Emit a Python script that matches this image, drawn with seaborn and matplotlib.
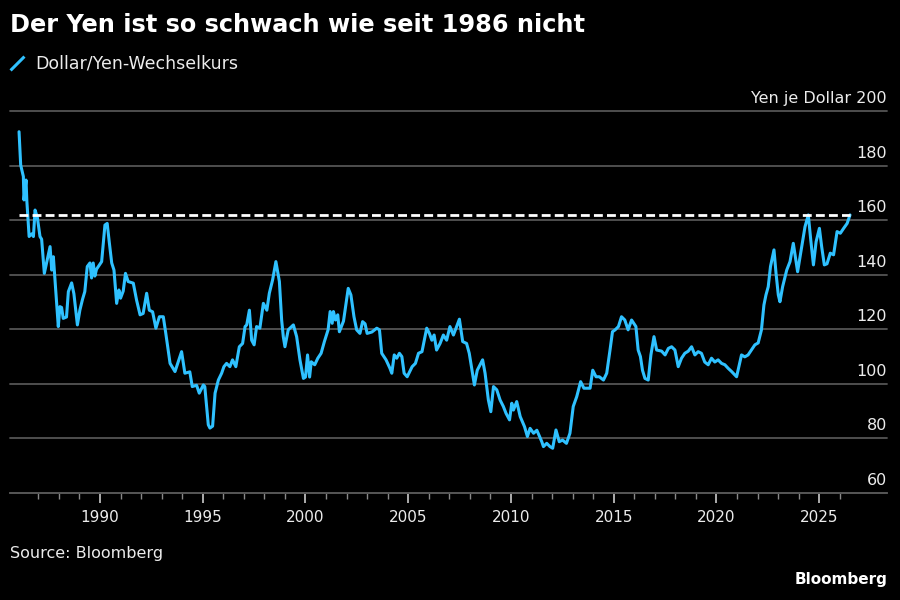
import matplotlib
matplotlib.use('Agg')
import matplotlib.pyplot as plt
import matplotlib.transforms as mtransforms
from matplotlib.lines import Line2D
import pandas as pd
import seaborn as sns

# Chart text
TITLE = 'Der Yen ist so schwach wie seit 1986 nicht'
SERIES_NAME = 'Dollar/Yen-Wechselkurs'
SOURCE = 'Source: Bloomberg'
BRAND = 'Bloomberg'

# Dollar/Yen exchange rate (decimal year, yen per dollar)
dates = [
    1986.06, 1986.14, 1986.27, 1986.30, 1986.40, 1986.44, 1986.55, 1986.68, 1986.76, 1986.84,
    1986.95, 1987.08, 1987.16, 1987.29, 1987.40, 1987.57, 1987.65, 1987.73, 1987.97, 1988.05,
    1988.13, 1988.21, 1988.37, 1988.46, 1988.62, 1988.73, 1988.90, 1989.02, 1989.15, 1989.26,
    1989.38, 1989.51, 1989.59, 1989.67, 1989.75, 1989.83, 1990.08, 1990.24, 1990.35, 1990.45,
    1990.57, 1990.68, 1990.81, 1990.92, 1991.00, 1991.13, 1991.24, 1991.37, 1991.62, 1991.78,
    1991.95, 1992.10, 1992.27, 1992.40, 1992.56, 1992.72, 1992.89, 1993.08, 1993.20, 1993.41,
    1993.65, 1993.97, 1994.13, 1994.37, 1994.49, 1994.70, 1994.83, 1995.03, 1995.10, 1995.27,
    1995.35, 1995.48, 1995.60, 1995.76, 1995.92, 1996.03, 1996.16, 1996.32, 1996.45, 1996.61,
    1996.78, 1996.94, 1997.06, 1997.14, 1997.27, 1997.38, 1997.50, 1997.62, 1997.78, 1997.95,
    1998.12, 1998.24, 1998.40, 1998.56, 1998.73, 1998.84, 1998.92, 1999.00, 1999.16, 1999.41,
    1999.57, 1999.73, 1999.90, 2000.00, 2000.10, 2000.20, 2000.28, 2000.45, 2000.60, 2000.76,
    2000.92, 2001.10, 2001.20, 2001.30, 2001.36, 2001.46, 2001.57, 2001.65, 2001.85, 2002.08,
    2002.21, 2002.36, 2002.49, 2002.65, 2002.78, 2002.90, 2003.00, 2003.23, 2003.47, 2003.60,
    2003.71, 2003.92, 2004.11, 2004.20, 2004.32, 2004.44, 2004.57, 2004.69, 2004.80, 2004.95,
    2005.19, 2005.35, 2005.50, 2005.67, 2005.90, 2006.03, 2006.15, 2006.26, 2006.38, 2006.55,
    2006.71, 2006.87, 2007.03, 2007.20, 2007.49, 2007.65, 2007.84, 2007.97, 2008.22, 2008.36,
    2008.62, 2008.74, 2008.90, 2009.02, 2009.15, 2009.31, 2009.47, 2009.63, 2009.76, 2009.93,
    2010.04, 2010.12, 2010.28, 2010.45, 2010.66, 2010.80, 2010.93, 2011.10, 2011.26, 2011.50,
    2011.58, 2011.74, 2011.90, 2012.03, 2012.19, 2012.35, 2012.51, 2012.70, 2012.87, 2013.03,
    2013.20, 2013.39, 2013.55, 2013.85, 2013.98, 2014.14, 2014.30, 2014.50, 2014.66, 2014.82,
    2014.94, 2015.07, 2015.23, 2015.38, 2015.54, 2015.70, 2015.87, 2016.08, 2016.19, 2016.30,
    2016.40, 2016.52, 2016.68, 2016.81, 2016.96, 2017.09, 2017.33, 2017.50, 2017.66, 2017.82,
    2017.98, 2018.14, 2018.30, 2018.46, 2018.63, 2018.79, 2018.95, 2019.11, 2019.27, 2019.43,
    2019.60, 2019.76, 2019.92, 2020.08, 2020.25, 2020.41, 2020.57, 2020.74, 2020.98, 2021.22,
    2021.38, 2021.54, 2021.70, 2021.87, 2022.03, 2022.19, 2022.31, 2022.41, 2022.52, 2022.63,
    2022.80, 2022.90, 2023.01, 2023.09, 2023.22, 2023.42, 2023.58, 2023.74, 2023.95, 2024.15,
    2024.31, 2024.47, 2024.59, 2024.72, 2024.85, 2025.01, 2025.12, 2025.25, 2025.38, 2025.54,
    2025.70, 2025.87, 2026.03, 2026.19, 2026.36, 2026.50,
]
usd_jpy = [
    192.4, 180.2, 176.0, 167.4, 174.7, 167.0, 154.0, 155.0, 154.0, 163.7,
    161.0, 154.0, 153.0, 140.5, 144.3, 150.3, 141.7, 146.6, 121.0, 128.3,
    128.0, 124.0, 124.5, 133.8, 137.0, 133.0, 121.6, 127.0, 131.0, 133.8,
    143.0, 144.3, 138.8, 144.3, 139.5, 142.0, 144.8, 158.2, 158.8, 152.0,
    144.3, 141.7, 129.5, 134.4, 131.4, 134.0, 140.5, 137.5, 136.9, 130.7,
    125.3, 125.8, 133.2, 127.0, 126.4, 120.4, 124.6, 124.6, 118.6, 107.5,
    104.5, 111.8, 103.9, 104.4, 99.0, 99.5, 96.6, 99.6, 99.0, 85.0,
    83.8, 84.5, 96.6, 101.4, 103.9, 106.3, 107.5, 106.3, 108.8, 106.3,
    113.6, 114.8, 121.0, 121.6, 127.0, 116.0, 114.3, 121.0, 120.4, 129.5,
    127.0, 133.2, 138.1, 144.8, 137.5, 123.4, 117.3, 113.6, 119.8, 121.6,
    117.3, 108.8, 102.0, 102.5, 110.6, 102.5, 108.1, 107.0, 109.4, 111.2,
    115.5, 119.8, 126.5, 122.2, 126.5, 123.4, 125.3, 119.1, 123.0, 135.0,
    132.6, 124.6, 119.8, 118.5, 122.8, 122.0, 118.5, 119.0, 120.4, 119.8,
    111.2, 108.8, 105.7, 103.9, 110.6, 109.4, 111.2, 110.0, 103.9, 102.6,
    106.3, 107.5, 111.2, 111.8, 120.4, 118.5, 116.0, 117.9, 112.4, 114.8,
    117.9, 116.0, 121.0, 117.9, 123.7, 115.5, 114.8, 111.2, 99.6, 105.0,
    108.8, 103.9, 94.1, 89.8, 99.0, 97.8, 94.1, 91.7, 89.2, 86.8,
    92.9, 90.4, 93.5, 88.0, 84.3, 80.7, 83.7, 81.9, 83.0, 78.8,
    77.0, 78.2, 77.0, 76.4, 83.1, 78.8, 79.4, 78.2, 81.9, 91.7,
    95.3, 100.8, 98.4, 98.4, 105.0, 102.6, 102.6, 101.4, 103.9, 112.4,
    119.1, 119.8, 121.0, 124.6, 123.4, 119.8, 123.4, 121.0, 112.4, 110.0,
    105.0, 102.0, 101.4, 110.6, 117.3, 112.4, 112.0, 110.6, 113.0, 113.6,
    112.4, 106.3, 109.4, 111.2, 112.0, 113.6, 110.6, 111.8, 111.2, 108.0,
    107.0, 109.4, 108.0, 108.8, 107.5, 107.0, 105.7, 104.5, 102.6, 110.6,
    109.9, 110.6, 112.4, 114.3, 115.0, 119.8, 128.9, 132.6, 135.6, 143.0,
    149.1, 140.5, 132.6, 130.1, 135.6, 141.7, 144.8, 151.5, 141.1, 150.3,
    157.6, 161.9, 152.7, 143.6, 152.1, 157.0, 150.3, 143.6, 144.0, 147.9,
    147.3, 155.8, 155.2, 157.0, 158.8, 161.9,
]
record_level = 161.9  # dashed reference line

y_ticks = [60, 80, 100, 120, 140, 160, 180, 200]
y_tick_labels = ['60', '80', '100', '120', '140', '160', '180', 'Yen je Dollar 200']
x_major = [1990, 1995, 2000, 2005, 2010, 2015, 2020, 2025]
x_minor = list(range(1987, 2027))

LINE_COLOR = '#2fc1ff'
GRID_COLOR = '#555555'
TEXT_COLOR = '#ececec'

sns.set_style('dark', {'axes.facecolor': 'black', 'figure.facecolor': 'black'})
plt.rcParams['font.family'] = ['DejaVu Sans']

df = pd.DataFrame({'year': dates, 'rate': usd_jpy})

fig = plt.figure(figsize=(9, 6), dpi=100, facecolor='black')
ax = fig.add_axes([10 / 900, 107 / 600, 877 / 900, 382 / 600])
ax.set_facecolor('black')

sns.lineplot(data=df, x='year', y='rate', color=LINE_COLOR, linewidth=2.2,
             ax=ax, legend=False, zorder=3)
ax.hlines(record_level, dates[0], dates[-1], colors='white', linewidth=2,
          linestyles=(0, (3.2, 1.5)), zorder=4)

ax.set_xlim(1985.62, 2028.3)
ax.set_ylim(60, 200)
ax.set_xlabel('')
ax.set_ylabel('')

# x axis: labelled 5-year ticks, small yearly ticks
ax.set_xticks(x_major)
ax.set_xticks(x_minor, minor=True)
ax.tick_params(axis='x', which='major', length=7, width=1.3, color='#bbbbbb',
               labelcolor=TEXT_COLOR, labelsize=11, pad=5, bottom=True)
ax.tick_params(axis='x', which='minor', length=4, width=1, color='#888888', bottom=True)

# y axis: gridlines with labels sitting above them on the right
ax.set_yticks(y_ticks)
ax.tick_params(axis='y', length=0, labelleft=False, labelright=False)
ax.yaxis.grid(True, color=GRID_COLOR, linewidth=1.3)
ax.xaxis.grid(False)
for line in ax.get_ygridlines():
    line.set_clip_on(False)

for name, spine in ax.spines.items():
    spine.set_visible(name == 'bottom')
ax.spines['bottom'].set_color(GRID_COLOR)
ax.spines['bottom'].set_linewidth(1.3)

trans = mtransforms.blended_transform_factory(ax.transAxes, ax.transData)
trans = mtransforms.offset_copy(trans, fig=fig, x=0, y=8, units='dots')
for val, lab in zip(y_ticks, y_tick_labels):
    ax.text(1.0, val, lab, transform=trans, ha='right', va='baseline',
            fontsize=11.5, color=TEXT_COLOR)

# title, legend and footer
fig.text(10 / 900, 1 - 32 / 600, TITLE, fontsize=17.25, fontweight='bold',
         color='white', va='baseline')

handle = Line2D([], [], linestyle='none', marker=[(-1, -1), (1, 1)], markersize=10,
                markeredgewidth=2.2, color=LINE_COLOR, label=SERIES_NAME)
fig.legend(handles=[handle], loc='center left', bbox_to_anchor=(7 / 900, 1 - 64 / 600),
           frameon=False, fontsize=12.5, labelcolor=TEXT_COLOR, handlelength=1.2,
           handletextpad=0.4, borderaxespad=0, borderpad=0)

fig.text(10 / 900, 1 - 558 / 600, SOURCE, fontsize=11.5, color=TEXT_COLOR, va='baseline')
fig.text(888 / 900, 1 - 584 / 600, BRAND, fontsize=11, fontweight='bold',
         color='white', ha='right', va='baseline')

fig.savefig('out.png', dpi=100, facecolor='black')
